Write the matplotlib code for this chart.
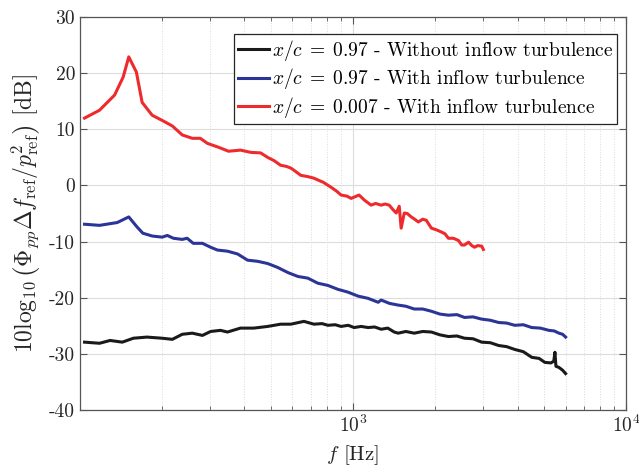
import numpy as np
import matplotlib.pyplot as plt
from matplotlib.ticker import FixedLocator, LogFormatterSciNotation, NullFormatter, FuncFormatter

plt.rcParams['font.family'] = 'cmr10'
plt.rcParams['mathtext.fontset'] = 'cm'
plt.rcParams['axes.unicode_minus'] = False
plt.rcParams['axes.formatter.use_mathtext'] = True

# x/c = 0.007, with inflow turbulence
f_red = [104, 118, 134, 144, 151, 161, 169, 184, 200, 218, 237, 258, 276, 293, 322,
         350, 387, 422, 459, 487, 515, 543, 570, 592, 620, 644, 680, 719, 750, 776,
         830, 870, 904, 950, 984, 1052, 1100, 1164, 1210, 1267, 1310, 1356, 1400,
         1439, 1476, 1500, 1540, 1580, 1633, 1680, 1734, 1800, 1854, 1936, 2020,
         2108, 2170, 2234, 2330, 2432, 2500, 2558, 2648, 2720, 2786, 2860, 2956, 3000]
p_red = [12.0, 13.4, 16.1, 19.3, 22.9, 20.2, 14.8, 12.5, 11.6, 10.6, 9.0, 8.4, 8.4,
         7.5, 6.8, 6.1, 6.3, 5.9, 5.8, 5.0, 4.4, 3.6, 3.4, 3.1, 2.4, 1.8, 1.6, 1.3,
         0.9, 0.6, -0.3, -1.0, -1.7, -1.9, -2.3, -1.7, -2.6, -3.5, -3.2, -3.5, -3.3,
         -3.5, -4.3, -4.9, -3.7, -7.6, -4.9, -5.0, -5.6, -6.0, -6.5, -6.0, -6.2,
         -7.6, -7.9, -8.3, -8.6, -9.4, -9.4, -9.8, -10.6, -10.6, -10.1, -10.7, -11.0,
         -10.7, -10.8, -11.4]

# x/c = 0.97, with inflow turbulence
f_blue = [104, 118, 137, 151, 162, 170, 184, 200, 209, 220, 237, 247, 260, 281, 301,
          319, 347, 378, 411, 447, 487, 530, 577, 628, 683, 743, 809, 881, 959,
          1043, 1135, 1236, 1267, 1360, 1463, 1560, 1675, 1800, 1936, 2080, 2234,
          2400, 2558, 2750, 2956, 3180, 3412, 3650, 3908, 4200, 4510, 4850, 5212,
          5450, 5672, 5850, 6000]
p_blue = [-6.9, -7.1, -6.6, -5.6, -7.4, -8.5, -9.0, -9.2, -8.9, -9.4, -9.6, -9.4,
          -10.3, -10.3, -11.0, -11.5, -11.7, -12.2, -13.3, -13.5, -13.9, -14.6,
          -15.5, -16.2, -16.5, -17.4, -17.8, -18.5, -19.0, -19.7, -20.1, -20.8,
          -20.4, -21.0, -21.3, -21.5, -22.0, -22.0, -22.4, -22.9, -23.1, -23.0,
          -23.5, -23.4, -23.8, -24.0, -24.4, -24.5, -24.9, -24.8, -25.3, -25.4,
          -25.8, -25.9, -26.3, -26.5, -27.0]

# x/c = 0.97, without inflow turbulence
f_black = [104, 118, 129, 143, 157, 176, 200, 218, 237, 258, 281, 301, 327, 347,
           387, 433, 487, 543, 592, 661, 719, 770, 809, 860, 904, 960, 1009, 1070,
           1135, 1200, 1267, 1340, 1415, 1463, 1560, 1675, 1800, 1936, 2080, 2234,
           2400, 2558, 2750, 2956, 3180, 3412, 3650, 3908, 4200, 4510, 4800, 5036,
           5300, 5430, 5483, 5530, 5672, 5850, 6000]
p_black = [-27.9, -28.1, -27.6, -27.9, -27.2, -27.0, -27.2, -27.4, -26.5, -26.3,
           -26.7, -26.0, -25.8, -26.1, -25.4, -25.4, -25.1, -24.7, -24.7, -24.2,
           -24.7, -24.6, -24.9, -24.8, -25.1, -24.9, -25.3, -25.1, -25.3, -25.2,
           -25.6, -25.4, -26.1, -26.3, -26.0, -26.3, -26.0, -26.1, -26.6, -26.9,
           -26.8, -27.2, -27.3, -27.9, -28.0, -28.5, -28.7, -29.2, -29.6, -30.6,
           -30.8, -31.5, -31.6, -31.3, -29.7, -32.2, -32.4, -32.9, -33.5]

labels = [r'$x/c\;=\;0.97$ - Without inflow turbulence',
          r'$x/c\;=\;0.97$ - With inflow turbulence',
          r'$x/c\;=\;0.007$ - With inflow turbulence']
colors = ['#1a1a1a', '#2b3497', '#ee2a2d']

fig = plt.figure(figsize=(6.39, 4.73), dpi=100)
ax = fig.add_axes([0.125, 0.133, 0.855, 0.831])

ax.plot(f_black, p_black, color=colors[0], lw=2.2, label=labels[0])
ax.plot(f_blue, p_blue, color=colors[1], lw=2.2, label=labels[1])
ax.plot(f_red, p_red, color=colors[2], lw=2.2, label=labels[2])

ax.set_xscale('log')
ax.set_xlim(100, 1e4)
ax.set_ylim(-40, 30)
ax.xaxis.set_major_locator(FixedLocator([1e3, 1e4]))
ax.xaxis.set_major_formatter(LogFormatterSciNotation())
ax.xaxis.set_minor_locator(FixedLocator([k * 10**e for e in (2, 3) for k in range(2, 10)]))
ax.xaxis.set_minor_formatter(NullFormatter())
ax.set_yticks(np.arange(-40, 31, 10))
ax.yaxis.set_major_formatter(FuncFormatter(lambda v, pos: '%d' % v))

ax.grid(axis='y', which='major', color='#dcdcdc', lw=0.8)
ax.grid(axis='x', which='major', color='#dcdcdc', lw=0.8)
ax.grid(axis='x', which='minor', color='#dcdcdc', lw=0.7, ls=':')
ax.set_axisbelow(True)

for s in ax.spines.values():
    s.set_color('#555555')
    s.set_linewidth(0.9)
ax.tick_params(which='both', direction='in', top=True, right=True,
               colors='#555555', labelcolor='#262626', labelsize=14)
ax.tick_params(which='major', length=5)
ax.tick_params(which='minor', length=3)

ax.set_xlabel(r'$f$ [Hz]', fontsize=15, color='#262626', labelpad=5)
ax.set_ylabel(r'$10\log_{10}\left(\Phi_{pp}\Delta f_{\mathrm{ref}}/p_{\mathrm{ref}}^{2}\right)$ [dB]',
              fontsize=17, color='#262626', labelpad=4)

leg = ax.legend(loc='upper right', bbox_to_anchor=(0.9835, 0.957), borderaxespad=0,
                fontsize=14, handlelength=1.6, handletextpad=0.15, labelspacing=0.18,
                borderpad=0.2, fancybox=False, framealpha=1)
leg.get_frame().set_edgecolor('#262626')
leg.get_frame().set_linewidth(0.9)

fig.savefig('out.png', dpi=100)
